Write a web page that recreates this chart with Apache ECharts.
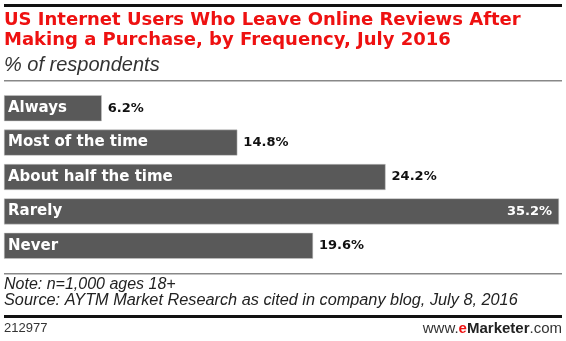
<!DOCTYPE html>
<html><head><meta charset="utf-8">
<script src="https://cdn.jsdelivr.net/npm/echarts@6/dist/echarts.min.js"></script>
<style>html,body{margin:0;padding:0;background:#fff}#c{width:566px;height:341px}</style>
</head><body><div id="c"></div>
<script>
const categories = ["Always", "Most of the time", "About half the time", "Rarely", "Never"];
const values = [6.2, 14.8, 24.2, 35.2, 19.6];
const titleLines = ["US Internet Users Who Leave Online Reviews After", "Making a Purchase, by Frequency, July 2016"];
const subtitle = "% of respondents";
const noteText = "Note: n=1,000 ages 18+";
const sourceText = "Source: AYTM Market Research as cited in company blog, July 8, 2016";
const chartId = "212977";

const chart = echarts.init(document.getElementById('c'), null, {renderer: 'canvas'});
const FONT = 'Liberation Sans, Arial, sans-serif';
const BOLD = '"DejaVu Sans", Verdana, sans-serif';
const dataItems = values.map((v, i) => {
  const item = {value: v};
  if (v === Math.max(...values)) {
    item.label = {position: 'insideRight', color: '#fff', distance: 7};
  }
  return item;
});
chart.setOption({
  animation: false,
  backgroundColor: '#fff',
  grid: {left: 4, right: 7, top: 91, height: 172},
  xAxis: {type: 'value', min: 0, max: 35.2, show: false},
  yAxis: {
    type: 'category', data: categories, inverse: true, z: 10,
    axisLine: {show: false}, axisTick: {show: false},
    axisLabel: {inside: true, margin: 4, color: '#fff', fontWeight: 'bold', fontSize: 15, fontFamily: BOLD}
  },
  series: [{
    type: 'bar', data: dataItems, barWidth: 26,
    itemStyle: {color: '#595959', borderColor: '#c8c8c8', borderWidth: 0.5},
    label: {show: true, position: 'right', distance: 6, formatter: p => p.value.toFixed(1) + '%',
      color: '#111', fontWeight: 'bold', fontSize: 13, fontFamily: BOLD}
  }],
  graphic: [
    {type: 'rect', shape: {x: 4, y: 4, width: 558, height: 3}, style: {fill: '#111'}},
    {type: 'text', left: 4, top: 11, style: {text: titleLines[0], fill: '#ee1111', font: 'bold 18px ' + BOLD}},
    {type: 'text', left: 4, top: 31, style: {text: titleLines[1], fill: '#ee1111', font: 'bold 18px ' + BOLD}},
    {type: 'text', left: 4, top: 55, style: {text: subtitle, fill: '#333', font: 'italic 20px ' + FONT}},
    {type: 'rect', shape: {x: 4, y: 80, width: 558, height: 1.5}, style: {fill: '#888'}},
    {type: 'rect', shape: {x: 4, y: 273, width: 558, height: 1.5}, style: {fill: '#888'}},
    {type: 'text', left: 4, top: 277, style: {text: noteText, fill: '#222', font: 'italic 16px ' + FONT}},
    {type: 'text', left: 4, top: 292, style: {text: sourceText, fill: '#222', font: 'italic 16.3px ' + FONT}},
    {type: 'rect', shape: {x: 4, y: 315, width: 558, height: 3}, style: {fill: '#111'}},
    {type: 'text', left: 4, top: 322, style: {text: chartId, fill: '#333', font: '13px ' + FONT}},
    {type: 'text', right: 4, top: 321, style: {
      text: '{a|www.}{b|e}{c|Marketer}{a|.com}',
      rich: {
        a: {fill: '#333', font: '15px ' + FONT},
        b: {fill: '#ee1111', font: 'bold 15px ' + FONT},
        c: {fill: '#222', font: 'bold 15px ' + FONT}
      }
    }}
  ]
});
</script></body></html>
